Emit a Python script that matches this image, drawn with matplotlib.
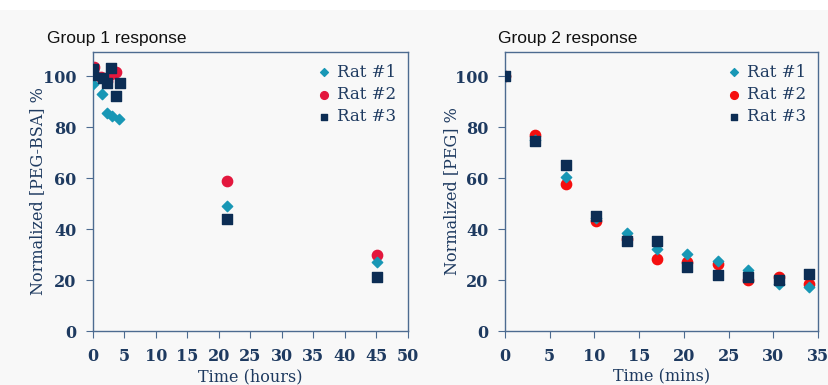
import matplotlib.pyplot as plt
from matplotlib.patches import Rectangle

# Group 1 (hours)
g1_t1 = [0, 1.4, 2.3, 3.0, 4.2, 21.3, 45.1]
g1_r1 = [97, 93, 85.5, 84.4, 83.1, 48.9, 26.9]
g1_t2 = [0, 0.2, 1.3, 2.2, 2.8, 3.7, 21.3, 45.1]
g1_r2 = [100.8, 103.5, 99.7, 98, 101, 101.7, 58.8, 29.9]
g1_t3 = [0, 0, 1.6, 2.2, 2.9, 3.6, 4.3, 21.3, 45.1]
g1_r3 = [103, 100.4, 99.2, 97.5, 103.4, 92.3, 97.5, 43.9, 21.2]

# Group 2 (mins)
g2_t = [0, 3.4, 6.8, 10.2, 13.6, 17.0, 20.4, 23.8, 27.2, 30.6, 34.0]
g2_r1 = [100, 74.8, 60.3, 44.5, 38.3, 32.0, 30.3, 27.4, 23.9, 18.3, 17.1]
g2_r2 = [100, 77.0, 57.8, 43.3, 36.3, 28.1, 27.2, 26.3, 20.0, 21.3, 18.4]
g2_r3 = [100, 74.6, 65.2, 45.2, 35.5, 35.3, 25.0, 21.8, 21.3, 20.0, 22.2]

teal = '#1897b5'
navy = '#0c2d54'
txt = '#1e3a60'
spine = '#4d6b90'
bg = '#f8f8f8'

fig = plt.figure(figsize=(8.29, 3.85), dpi=100, facecolor=bg)
fig.patches.append(Rectangle((0, 1 - 10 / 385), 1, 10 / 385, transform=fig.transFigure,
                             facecolor='white', edgecolor='none', zorder=-1))

serif = ['DejaVu Serif']


def style(ax, xmax, xlabel, ylabel, title, tx, ylx):
    ax.set_facecolor(bg)
    ax.set_xlim(0, xmax)
    ax.set_ylim(0, 109.5)
    ax.set_xticks(range(0, xmax + 1, 5))
    ax.set_yticks(range(0, 101, 20))
    for s in ax.spines.values():
        s.set_color(spine)
        s.set_linewidth(1.0)
    ax.tick_params(direction='out', length=5, color=spine, labelcolor=txt,
                   labelsize=11.5, pad=7)
    for lab in ax.get_xticklabels() + ax.get_yticklabels():
        lab.set_family(serif)
        lab.set_fontweight('bold')
    ax.set_xlabel(xlabel, family=serif, color=txt, fontsize=11.5, labelpad=3)
    ax.set_ylabel(ylabel, family=serif, color=txt, fontsize=11.5)
    ax.yaxis.set_label_coords(ylx, 0.5)
    fig.text(tx, 1 - 38 / 385, title, family='Liberation Sans', fontsize=12.5,
             color='#111111', va='center')
    leg = ax.legend(loc='upper right', bbox_to_anchor=(1.0, 1.0), frameon=False,
                    prop={'family': serif, 'size': 12}, handletextpad=-0.2,
                    labelspacing=0.32, borderaxespad=0.3, markerscale=0.75)
    for t in leg.get_texts():
        t.set_color(txt)


ax1 = fig.add_axes([93 / 829, 1 - 331 / 385, 315 / 829, 279 / 385])
ax1.scatter(g1_t1, g1_r1, marker='D', s=28, color=teal, label='Rat #1', zorder=3)
ax1.scatter(g1_t2, g1_r2, marker='o', s=55, color='#e3173d', label='Rat #2', zorder=2)
ax1.scatter(g1_t3, g1_r3, marker='s', s=42, color=navy, label='Rat #3', zorder=4)
style(ax1, 50, 'Time (hours)', 'Normalized [PEG-BSA] %', 'Group 1 response',
      47 / 829, -0.15)

ax2 = fig.add_axes([505 / 829, 1 - 331 / 385, 313 / 829, 279 / 385])
ax2.scatter(g2_t, g2_r1, marker='D', s=28, color=teal, label='Rat #1', zorder=3)
ax2.scatter(g2_t, g2_r2, marker='o', s=55, color='#f50f0f', label='Rat #2', zorder=2)
ax2.scatter(g2_t, g2_r3, marker='s', s=42, color=navy, label='Rat #3', zorder=4)
style(ax2, 35, 'Time (mins)', 'Normalized [PEG] %', 'Group 2 response',
      498 / 829, -0.143)

fig.savefig('out.png', dpi=100, facecolor=fig.get_facecolor())
